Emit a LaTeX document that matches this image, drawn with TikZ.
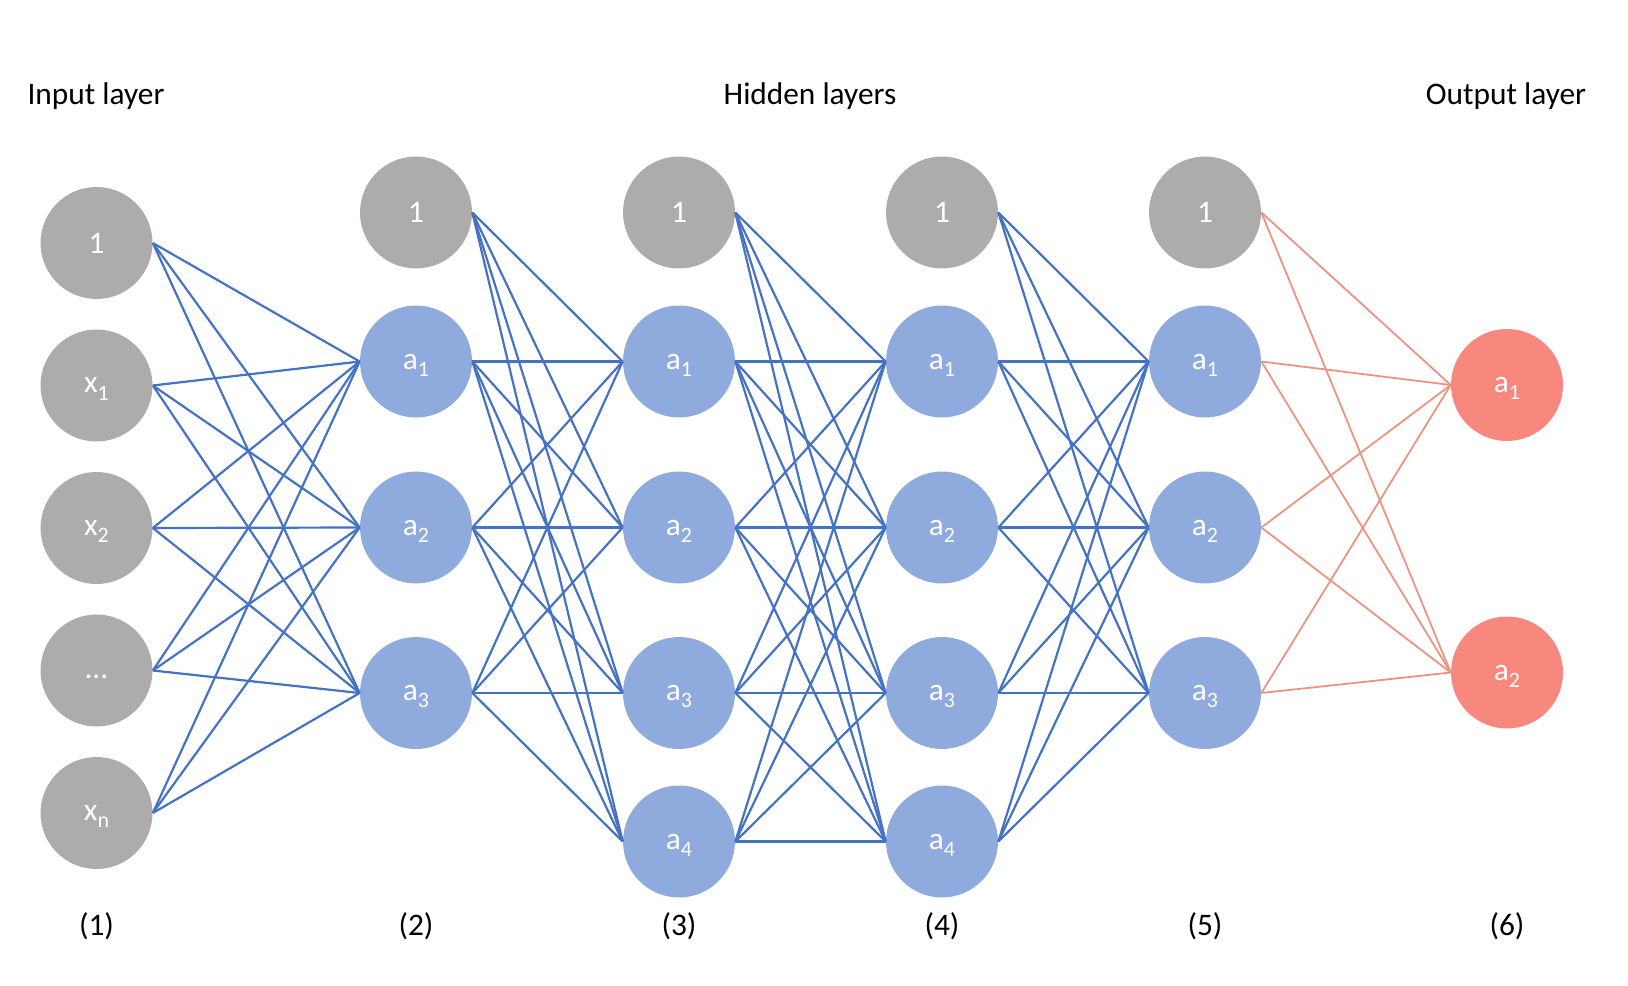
\documentclass[tikz,border=0pt]{standalone}
\usepackage{fontspec}
\setmainfont{Carlito}
\usetikzlibrary{positioning}

\definecolor{unitgray}{HTML}{AEABAB}
\definecolor{unitblue}{HTML}{8FAADC}
\definecolor{unitred}{HTML}{F8877D}
\definecolor{wireblue}{HTML}{4472C4}
\definecolor{wirered}{HTML}{F0907F}
\newcommand{\idx}[1]{\raisebox{-4pt}{\fontsize{12.5}{12.5}\selectfont #1}}

\begin{document}
\begin{tikzpicture}[
  x=0.02cm, y=-0.02cm,
  every node/.style={font=\fontsize{17.85}{21}\selectfont},
  unit/.style={circle, minimum size=2.24cm, inner sep=0pt, text=white, text depth=0pt},
  biasunit/.style={unit, fill=unitgray},
  hiddenunit/.style={unit, fill=unitblue},
  outunit/.style={unit, fill=unitred},
  wire/.style={draw=wireblue, line width=1.25pt},
  outwire/.style={draw=wirered, line width=1pt}
]
\useasboundingbox (0,0) rectangle (1628,986);

% titles
\node (inlabel) at (96,96) {Input layer};
\node (hidlabel) at (810,96) {Hidden layers};
\node (outlabel) at (1506,96) {Output layer};

% input layer
\node[biasunit] (i0) at (96.5,243) {1};
\node[biasunit] (i1) at (96.5,385.5) {x\idx{1}};
\node[biasunit] (i2) at (96.5,528) {x\idx{2}};
\node[biasunit] (i3) at (96.5,670.5) {\vphantom{a}\textellipsis};
\node[biasunit] (i4) at (96.5,813) {x\idx{n}};

% hidden layer (2)
\node[biasunit] (b0) at (416,212.5) {1};
\node[hiddenunit] (b1) at (416,361.5) {a\idx{1}};
\node[hiddenunit] (b2) at (416,527.5) {a\idx{2}};
\node[hiddenunit] (b3) at (416,693) {a\idx{3}};

% hidden layer (3)
\node[biasunit] (c0) at (679,212.5) {1};
\node[hiddenunit] (c1) at (679,361.5) {a\idx{1}};
\node[hiddenunit] (c2) at (679,527.5) {a\idx{2}};
\node[hiddenunit] (c3) at (679,693) {a\idx{3}};
\node[hiddenunit] (c4) at (679,841.5) {a\idx{4}};

% hidden layer (4)
\node[biasunit] (d0) at (942,212.5) {1};
\node[hiddenunit] (d1) at (942,361.5) {a\idx{1}};
\node[hiddenunit] (d2) at (942,527.5) {a\idx{2}};
\node[hiddenunit] (d3) at (942,693) {a\idx{3}};
\node[hiddenunit] (d4) at (942,841.5) {a\idx{4}};

% hidden layer (5)
\node[biasunit] (e0) at (1205,212.5) {1};
\node[hiddenunit] (e1) at (1205,361.5) {a\idx{1}};
\node[hiddenunit] (e2) at (1205,527.5) {a\idx{2}};
\node[hiddenunit] (e3) at (1205,693) {a\idx{3}};

% output layer
\node[outunit] (o1) at (1507,385) {a\idx{1}};
\node[outunit] (o2) at (1507,672.5) {a\idx{2}};

% layer numbers
\node (num1) at (96.5,926) {(1)};
\node (num2) at (416,926) {(2)};
\node (num3) at (679,926) {(3)};
\node (num4) at (942,926) {(4)};
\node (num5) at (1205,926) {(5)};
\node (num6) at (1507,926) {(6)};

% connections
\foreach \s in {i0,i1,i2,i3,i4}
  \foreach \t in {b1,b2,b3}
    \draw[wire] (\s.east) -- (\t.west);
\foreach \s in {b0,b1,b2,b3}
  \foreach \t in {c1,c2,c3,c4}
    \draw[wire] (\s.east) -- (\t.west);
\foreach \s in {c0,c1,c2,c3,c4}
  \foreach \t in {d1,d2,d3,d4}
    \draw[wire] (\s.east) -- (\t.west);
\foreach \s in {d0,d1,d2,d3,d4}
  \foreach \t in {e1,e2,e3}
    \draw[wire] (\s.east) -- (\t.west);
\foreach \s in {e0,e1,e2,e3}
  \foreach \t in {o1,o2}
    \draw[outwire] (\s.east) -- (\t.west);
\end{tikzpicture}
\end{document}
